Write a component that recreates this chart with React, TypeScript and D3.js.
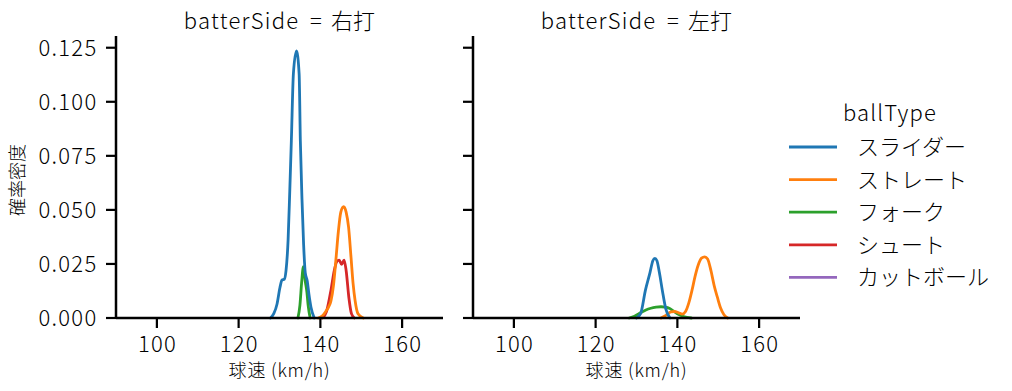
import React from 'react'
import * as d3 from 'd3'

// categories
const batterSides = ['右打', '左打']
const ballTypes = ['スライダー', 'ストレート', 'フォーク', 'シュート', 'カットボール']
const colors = ['#1f77b4', '#ff7f0e', '#2ca02c', '#d62728', '#9467bd']
const xTicks = [100, 120, 140, 160]
const yTicks = [0, 0.025, 0.05, 0.075, 0.1, 0.125]

// density curves: [speed km/h, density]
const rightSlider = [[127.8, 0], [128.6, 0.002], [129.4, 0.0065], [130.1, 0.014], [130.6, 0.0175], [131.2, 0.018], [131.6, 0.022], [132.1, 0.036], [132.5, 0.058], [132.9, 0.082], [133.4, 0.113], [134.15, 0.1235], [134.8, 0.113], [135.1, 0.082], [135.5, 0.055], [135.9, 0.034], [136.3, 0.021], [136.8, 0.017], [137.2, 0.011], [137.7, 0.005], [138.5, 0]]
const rightStraight = [[139.5, 0], [140.5, 0.001], [141.3, 0.003], [142.0, 0.005], [142.6, 0.008], [143.2, 0.015], [143.8, 0.027], [144.4, 0.04], [145.0, 0.049], [145.7, 0.0515], [146.3, 0.049], [146.9, 0.042], [147.5, 0.028], [148.0, 0.016], [148.5, 0.008], [149.2, 0.002], [150.5, 0]]
const rightFork = [[134.5, 0], [135.0, 0.006], [135.4, 0.016], [135.85, 0.0237], [136.3, 0.017], [136.7, 0.012], [137.0, 0.006], [137.5, 0]]
const rightShoot = [[140.5, 0], [141.5, 0.003], [142.6, 0.013], [143.4, 0.022], [144.0, 0.026], [144.6, 0.0268], [145.2, 0.0248], [145.8, 0.0268], [146.3, 0.022], [147.0, 0.009], [147.6, 0.002], [148.3, 0]]
const rightCutter: number[][] = []

const leftSlider = [[130.0, 0], [131.0, 0.002], [132.2, 0.013], [133.3, 0.021], [134.0, 0.0265], [134.5, 0.0276], [135.0, 0.0265], [135.6, 0.021], [136.3, 0.013], [137.2, 0.004], [138.2, 0]]
const leftStraight = [[136.0, 0], [137.2, 0.0012], [138.4, 0.0028], [139.3, 0.003], [140.3, 0.0024], [141.2, 0.0018], [142.0, 0.003], [142.8, 0.007], [143.6, 0.013], [144.3, 0.019], [145.1, 0.0245], [145.9, 0.0277], [146.7, 0.0283], [147.4, 0.0273], [148.2, 0.022], [149.0, 0.015], [149.8, 0.0095], [150.6, 0.0045], [151.4, 0.0015], [152.3, 0]]
const leftFork = [[128.2, 0], [129.5, 0.0008], [131.1, 0.0025], [132.3, 0.0037], [133.5, 0.0045], [134.8, 0.005], [136.0, 0.0052], [137.0, 0.005], [138.0, 0.0045], [139.0, 0.0033], [140.0, 0.002], [141.5, 0.0007], [143.4, 0]]
const leftShoot: number[][] = []
const leftCutter: number[][] = []

const panelSeries = [
  [rightSlider, rightStraight, rightFork, rightShoot, rightCutter],
  [leftSlider, leftStraight, leftFork, leftShoot, leftCutter],
]

const font = '"Noto Sans CJK JP", "Noto Sans", sans-serif'

export default function App() {
  const width = 1012
  const height = 391
  const panelW = 327
  const panelLefts = [116, 473]
  const top = 38
  const bottom = 318

  const x = d3.scaleLinear().domain([90, 170]).range([0, panelW])
  const y = d3.scaleLinear().domain([0, 0.1295]).range([bottom, top])
  const line = d3.line<number[]>()
    .x(d => x(d[0]))
    .y(d => y(d[1]))
    .curve(d3.curveMonotoneX)

  return (
    <svg width={width} height={height} style={{ position: 'absolute', left: 0, top: 0, background: '#fff' }}
      fontFamily={font} fontWeight={300} fill="#000">
      {batterSides.map((side, p) => {
        const left = panelLefts[p]
        return (
          <g key={side} transform={`translate(${left},0)`}>
            {/* facet title */}
            <text x={183.5} y={29} textAnchor="end" fontSize={22} letterSpacing={1.3}>batterSide</text>
            <text x={200} y={29} textAnchor="middle" fontSize={22}>=</text>
            <text x={215} y={29} fontSize={22}>{side}</text>
            {/* curves, last hue drawn first */}
            {panelSeries[p].map((pts, i) => ({ pts, i })).reverse().map(({ pts, i }) =>
              pts.length > 1 ? (
                <path key={i} d={line(pts) || ''} fill="none" stroke={colors[i]}
                  strokeWidth={2.8} strokeLinejoin="round" strokeLinecap="round" />
              ) : null
            )}
            {/* y axis */}
            <line x1={0} x2={0} y1={top - 2} y2={bottom} stroke="#000" strokeWidth={2.5} />
            {yTicks.map(t => (
              <g key={t} transform={`translate(0,${y(t)})`}>
                <line x1={-10} x2={0} stroke="#000" strokeWidth={2.2} />
                {p === 0 && (
                  <text x={-18.5} dy="0.36em" textAnchor="end" fontSize={22} letterSpacing={1.3}>{t.toFixed(3)}</text>
                )}
              </g>
            ))}
            {/* x axis */}
            <line x1={0} x2={panelW} y1={bottom} y2={bottom} stroke="#000" strokeWidth={2.5} />
            {xTicks.map(t => (
              <g key={t} transform={`translate(${x(t)},${bottom})`}>
                <line y1={0} y2={10} stroke="#000" strokeWidth={2.2} />
                <text x={0.6} y={34} textAnchor="middle" fontSize={22} letterSpacing={1.3}>{t}</text>
              </g>
            ))}
            <text x={panelW / 2} y={377} textAnchor="middle" fontSize={18} letterSpacing={0.8}>球速 (km/h)</text>
          </g>
        )
      })}
      <text transform={`translate(24,${(top + bottom) / 2 + 2}) rotate(-90)`} textAnchor="middle" fontSize={18}>確率密度</text>
      {/* legend */}
      <g>
        <text x={890} y={121} textAnchor="middle" fontSize={22} letterSpacing={1.2}>ballType</text>
        {ballTypes.map((b, i) => (
          <g key={b} transform={`translate(0,${147 + i * 32.6})`}>
            <line x1={789} x2={837} stroke={colors[i]} strokeWidth={2.8} />
            <text x={857} dy="0.36em" fontSize={22}>{b}</text>
          </g>
        ))}
      </g>
    </svg>
  )
}
